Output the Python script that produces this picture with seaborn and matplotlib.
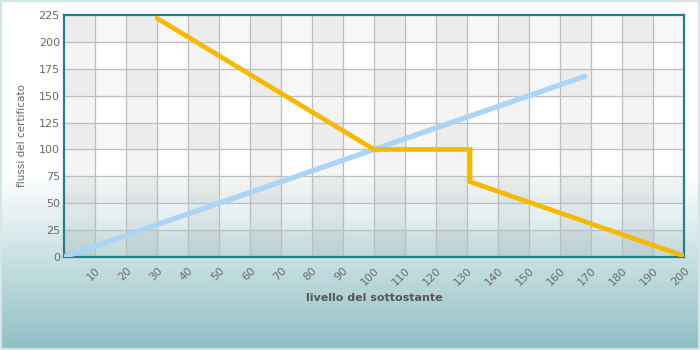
import numpy as np
import pandas as pd
import matplotlib
matplotlib.use("Agg")
import matplotlib.pyplot as plt
from matplotlib.colors import LinearSegmentedColormap
import seaborn as sns

# Data
blue_x = [0, 168]
blue_y = [0, 168]
orange_x = [30, 100, 131, 131, 200]
orange_y = [222, 100, 100, 70, 1]
x_ticks = list(range(10, 201, 10))
y_ticks = list(range(0, 226, 25))
x_label = "livello del sottostante"
y_label = "flussi del certificato"

sns.set_theme(style="white")
plt.rcParams['font.family'] = ['DejaVu Sans']

fig = plt.figure(figsize=(7, 3.5), dpi=100)
W, H = 700, 350

# background gradient
bg = fig.add_axes([0, 0, 1, 1], zorder=-10)
cmap = LinearSegmentedColormap.from_list("bg", [(0, "#ffffff"), (0.5, "#ffffff"), (1.0, "#8fbfc5")])
grad = np.linspace(0, 1, 256).reshape(-1, 1)
bg.imshow(grad, aspect="auto", cmap=cmap, extent=[0, 1, 0, 1], origin="upper")
bg.set_xlim(0, 1); bg.set_ylim(0, 1)
bg.axis("off")
bg.add_patch(plt.Rectangle((0.001, 0.002), 0.997, 0.995, fill=False, edgecolor="#d4e6ea", linewidth=1.5, transform=bg.transAxes))

left, right, top, bottom = 64, 684, 15, 257
ax = fig.add_axes([left / W, 1 - bottom / H, (right - left) / W, (bottom - top) / H])
ax.set_facecolor("none")

# checkered bands
for i in range(0, 200, 20):
    ax.axvspan(i, i + 10, color="#000000", alpha=0.045, lw=0, zorder=0)
for j in range(0, 225, 50):
    ax.axhspan(j, j + 25, color="#000000", alpha=0.03, lw=0, zorder=0)

# grid
for xv in range(10, 200, 10):
    ax.axvline(xv, color="#bdbdbd", lw=0.9, zorder=1)
for yv in range(25, 225, 25):
    ax.axhline(yv, color="#bdbdbd", lw=0.9, zorder=1)

df_b = pd.DataFrame({"x": blue_x, "y": blue_y})
df_o = pd.DataFrame({"x": orange_x, "y": orange_y})
sns.lineplot(data=df_b, x="x", y="y", ax=ax, color="#aad5f7", lw=3.8, sort=False,
             estimator=None, solid_capstyle="round", zorder=3)
sns.lineplot(data=df_o, x="x", y="y", ax=ax, color="#f7b900", lw=3.4, sort=False,
             estimator=None, solid_capstyle="round", solid_joinstyle="miter", zorder=4)

ax.set_xlim(0, 200)
ax.set_ylim(0, 225)
ax.set_xticks(x_ticks)
ax.set_yticks(y_ticks)
ax.set_xticklabels([str(v) for v in x_ticks], rotation=45, ha="right",
                   rotation_mode="anchor", fontsize=8, color="#6b6b6b")
ax.set_yticklabels([str(v) for v in y_ticks], fontsize=8, color="#6b6b6b")
ax.tick_params(axis="both", length=0, pad=3)
ax.tick_params(axis="x", pad=6)
for s in ax.spines.values():
    s.set_color("#237f8c")
    s.set_linewidth(1.6)
    s.set_visible(True)
ax.grid(False)

ax.set_xlabel(x_label, fontsize=8, fontweight="bold", color="#555555", labelpad=4)
ax.set_ylabel(y_label, fontsize=7.5, color="#666666", labelpad=8)

fig.savefig("out.png", dpi=100)
